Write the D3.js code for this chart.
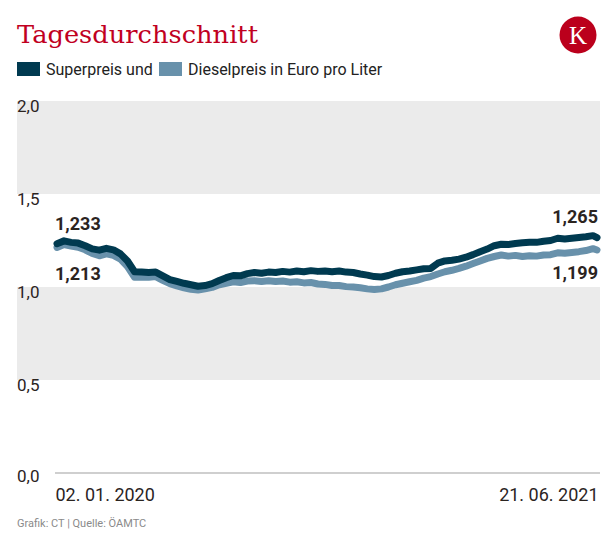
<!DOCTYPE html>
<html>
<head>
<meta charset="utf-8">
<script src="https://cdn.jsdelivr.net/npm/d3@7/dist/d3.min.js"></script>
<style>
  html, body { margin: 0; padding: 0; background: #fff; }
  svg { display: block; }
  text { font-family: Roboto, "Noto Sans", sans-serif; }
</style>
</head>
<body>
<script>
// ---------- DATA ----------
const titleText = "Tagesdurchschnitt";
const legendLabels = ["Superpreis und", "Dieselpreis in Euro pro Liter"];
const sourceText = "Grafik: CT | Quelle: ÖAMTC";
const startDate = "2020-01-02";
const endDate = "2021-06-21";
const xTickLabels = ["02. 01. 2020", "21. 06. 2021"];
const yTicks = [0, 0.5, 1, 1.5, 2];
const yTickLabels = ["0,0", "0,5", "1,0", "1,5", "2,0"];

// weekly samples (every 7 days from start), last value is the end date
const superPrice = [
  1.233, 1.248, 1.240, 1.236, 1.222, 1.205, 1.198, 1.208, 1.200, 1.178,
  1.140, 1.082, 1.080, 1.078, 1.080, 1.060, 1.040, 1.030, 1.020, 1.012,
  1.004, 1.008, 1.018, 1.035, 1.050, 1.062, 1.060, 1.072, 1.078, 1.074,
  1.080, 1.078, 1.084, 1.080, 1.086, 1.082, 1.088, 1.084, 1.086, 1.082,
  1.086, 1.080, 1.078, 1.070, 1.064, 1.056, 1.054, 1.062, 1.074, 1.082,
  1.086, 1.092, 1.098, 1.100, 1.128, 1.140, 1.144, 1.150, 1.160, 1.174,
  1.190, 1.204, 1.222, 1.230, 1.228, 1.234, 1.238, 1.240, 1.240, 1.246,
  1.250, 1.262, 1.258, 1.262, 1.266, 1.270, 1.276, 1.265
];
const dieselPrice = [
  1.213, 1.228, 1.220, 1.214, 1.200, 1.180, 1.168, 1.178, 1.170, 1.150,
  1.110, 1.052, 1.054, 1.052, 1.056, 1.036, 1.018, 1.006, 0.996, 0.988,
  0.984, 0.990, 0.998, 1.012, 1.020, 1.028, 1.024, 1.032, 1.034, 1.030,
  1.034, 1.030, 1.032, 1.026, 1.028, 1.022, 1.024, 1.016, 1.014, 1.008,
  1.008, 1.002, 1.000, 0.996, 0.990, 0.986, 0.990, 1.000, 1.012, 1.020,
  1.028, 1.036, 1.048, 1.056, 1.070, 1.082, 1.090, 1.100, 1.112, 1.126,
  1.140, 1.154, 1.164, 1.172, 1.166, 1.170, 1.164, 1.168, 1.166, 1.172,
  1.174, 1.184, 1.182, 1.186, 1.190, 1.196, 1.206, 1.199
];
const startLabels = ["1,233", "1,213"];
const endLabels = ["1,265", "1,199"];

// ---------- SETUP ----------
const W = 616, H = 543;
const colors = { super: "#003a50", diesel: "#6891ab", text: "#2b241f", red: "#c1001f", band: "#ebebeb" };

const parse = d3.timeParse("%Y-%m-%d");
const t0 = parse(startDate), t1 = parse(endDate);
const dates = superPrice.map((_, i) =>
  i === superPrice.length - 1 ? t1 : d3.timeDay.offset(t0, i * 7));

const x = d3.scaleTime().domain([t0, t1]).range([57, 597]);
const y = d3.scaleLinear().domain([0, 2]).range([473, 101]);

const svg = d3.select("body").append("svg").attr("width", W).attr("height", H);

// Title
svg.append("text")
  .attr("x", 17).attr("y", 43)
  .attr("fill", colors.red)
  .style("font-family", "'DejaVu Serif', 'Liberation Serif', serif")
  .style("font-size", "25px")
  .attr("textLength", 241).attr("lengthAdjust", "spacingAndGlyphs")
  .text(titleText);

// Logo
svg.append("circle").attr("cx", 578).attr("cy", 35).attr("r", 18.5).attr("fill", "#bb001c");
svg.append("text").attr("x", 578).attr("y", 43.5).attr("text-anchor", "middle")
  .attr("fill", "#fff")
  .style("font-family", "'Liberation Serif', 'DejaVu Serif', serif")
  .style("font-size", "25px")
  .text("K");

// Legend
const lg = svg.append("g");
lg.append("rect").attr("x", 17).attr("y", 62).attr("width", 23).attr("height", 14).attr("fill", colors.super);
lg.append("text").attr("x", 46).attr("y", 75).attr("fill", "#222").style("font-size", "16px").text(legendLabels[0]);
lg.append("rect").attr("x", 159).attr("y", 62).attr("width", 23).attr("height", 14).attr("fill", colors.diesel);
lg.append("text").attr("x", 188).attr("y", 75).attr("fill", "#222").style("font-size", "16px").text(legendLabels[1]);

// Bands
const bands = [[1.5, 2], [0.5, 1]];
svg.append("g").selectAll("rect").data(bands).join("rect")
  .attr("x", 17).attr("width", 600 - 17)
  .attr("y", d => y(d[1])).attr("height", d => y(d[0]) - y(d[1]))
  .attr("fill", colors.band);

// Zero line
svg.append("line").attr("x1", 55).attr("x2", 600).attr("y1", y(0)).attr("y2", y(0))
  .attr("stroke", "#cfcfcf").attr("stroke-width", 2);

// Y axis (labels only)
const yAxis = d3.axisLeft(y).tickValues(yTicks).tickSize(0)
  .tickFormat((d, i) => yTickLabels[i]);
const yg = svg.append("g").attr("transform", "translate(17,0)").call(yAxis);
yg.select(".domain").remove();
yg.selectAll("text")
  .attr("x", 0).attr("dy", null).attr("y", d => d === 0 ? 8 : 10)
  .attr("text-anchor", "start")
  .attr("fill", colors.text)
  .style("font-family", "Roboto, sans-serif")
  .style("font-size", "17px");

// X axis (two date labels)
const xAxis = d3.axisBottom(x).tickValues([t0, t1]).tickSize(0)
  .tickFormat((d, i) => xTickLabels[i]);
const xg = svg.append("g").attr("transform", "translate(0,473)").call(xAxis);
xg.select(".domain").remove();
xg.selectAll("text")
  .attr("y", 28).attr("dy", null)
  .attr("text-anchor", (d, i) => i === 0 ? "start" : "end")
  .attr("dx", (d, i) => i === 0 ? -2 : 1)
  .attr("fill", colors.text)
  .style("font-family", "Roboto, sans-serif")
  .style("font-size", "18px");

// Lines
const line = d3.line().x(d => x(d[0])).y(d => y(d[1])).curve(d3.curveLinear);
const superData = dates.map((d, i) => [d, superPrice[i]]);
const dieselData = dates.map((d, i) => [d, dieselPrice[i]]);

svg.append("path").datum(dieselData).attr("d", line)
  .attr("fill", "none").attr("stroke", colors.diesel).attr("stroke-width", 7)
  .attr("stroke-linejoin", "round").attr("stroke-linecap", "round");
svg.append("path").datum(superData).attr("d", line)
  .attr("fill", "none").attr("stroke", colors.super).attr("stroke-width", 7)
  .attr("stroke-linejoin", "round").attr("stroke-linecap", "round");

// Value labels
const last = superPrice.length - 1;
const lbl = svg.append("g").style("font-family", "Roboto, sans-serif")
  .style("font-size", "18px").style("font-weight", "bold").attr("fill", colors.text);
lbl.append("text").attr("x", x(t0) - 2).attr("y", y(superPrice[0]) - 14).text(startLabels[0]);
lbl.append("text").attr("x", x(t0) - 2).attr("y", y(dieselPrice[0]) + 33).text(startLabels[1]);
lbl.append("text").attr("x", x(t1) + 1).attr("y", y(superPrice[last]) - 15)
  .attr("text-anchor", "end").text(endLabels[0]);
lbl.append("text").attr("x", x(t1) + 1).attr("y", y(dieselPrice[last]) + 29)
  .attr("text-anchor", "end").text(endLabels[1]);

// Source
svg.append("text").attr("x", 17).attr("y", 527).attr("fill", "#8a8a8a")
  .style("font-family", "Roboto, sans-serif").style("font-size", "11px")
  .text(sourceText);
</script>
</body>
</html>
